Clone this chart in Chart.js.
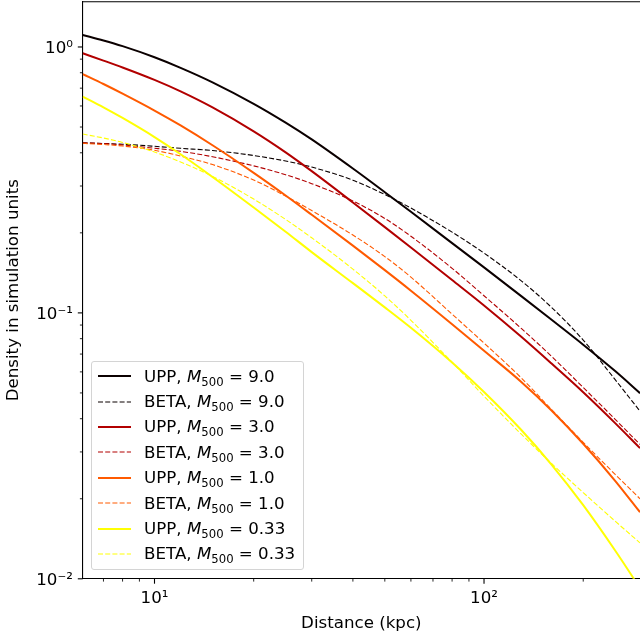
<!DOCTYPE html>
<html>
<head>
<meta charset="utf-8">
<script src="https://cdn.jsdelivr.net/npm/chart.js@4.4.1/dist/chart.umd.min.js"></script>
<style>
  html, body { margin: 0; padding: 0; background: #fff; overflow: hidden; }
  #wrap { position: relative; width: 640px; height: 639px; }
  #legend {
    position: absolute; left: 91px; top: 361px; width: 213px; height: 209px;
    box-sizing: border-box; padding-top: 1.5px;
    border: 1px solid #d4d4d4; border-radius: 3px; background: rgba(255, 255, 255, 0.8);
    font-family: "DejaVu Sans", sans-serif; font-size: 16.67px; color: #000;
  }
  #legend .row { display: flex; align-items: center; height: 25.4px; white-space: nowrap; }
  #legend svg { margin-left: 5.5px; margin-right: 13.3px; flex: none; }
  #legend i { font-style: italic; }
  #legend sub { font-size: 0.7em; vertical-align: -0.3em; line-height: 0; }
</style>
</head>
<body>
<div id="wrap">
  <canvas id="chart" width="640" height="639"></canvas>
  <div id="legend"></div>
</div>
<script>
const distanceKpc = [6.055, 7, 8, 10, 12, 15, 20, 25, 30, 40, 50, 60, 80, 100, 130, 160, 200, 250, 297.4];

// UPP profiles
const uppM9 = [1.110, 1.058, 1.007, 0.915, 0.835, 0.7364, 0.6113, 0.5194, 0.4491, 0.349, 0.2844, 0.240, 0.183, 0.1483, 0.1154, 0.0944, 0.0759, 0.0604, 0.0499];
const uppM3 = [0.947, 0.8889, 0.8374, 0.7519, 0.6807, 0.5925, 0.4817, 0.4016, 0.3412, 0.2602, 0.2102, 0.1762, 0.1329, 0.1066, 0.0811, 0.0646, 0.0503, 0.0385, 0.0310];
const uppM1 = [0.791, 0.7258, 0.6677, 0.5768, 0.507, 0.427, 0.3362, 0.2764, 0.2339, 0.1791, 0.1448, 0.1212, 0.0907, 0.0721, 0.0549, 0.04305, 0.0322, 0.02337, 0.0178];
const uppM033 = [0.651, 0.593, 0.5409, 0.4585, 0.395, 0.3245, 0.2491, 0.202, 0.1693, 0.1294, 0.1049, 0.0879, 0.0651, 0.0504, 0.03618, 0.02694, 0.01892, 0.01278, 0.00923];

// beta-model profiles
const betaM9 = [0.436, 0.4335, 0.4308, 0.4231, 0.4158, 0.4080, 0.3907, 0.3724, 0.3535, 0.3155, 0.2786, 0.2478, 0.2012, 0.1678, 0.1317, 0.1051, 0.0790, 0.0561, 0.0427];
const betaM3 = [0.436, 0.4335, 0.428, 0.4162, 0.4051, 0.3866, 0.3572, 0.3307, 0.3062, 0.2636, 0.2265, 0.1942, 0.1471, 0.1160, 0.0872, 0.0688, 0.0524, 0.0398, 0.0320];
const betaM1 = [0.4342, 0.4297, 0.4242, 0.4087, 0.3889, 0.3612, 0.3158, 0.2749, 0.2425, 0.1962, 0.1628, 0.1363, 0.0989, 0.0770, 0.0568, 0.0434, 0.0326, 0.0247, 0.0200];
const betaM033 = [0.4706, 0.4546, 0.4375, 0.4027, 0.3695, 0.3261, 0.2679, 0.2246, 0.1916, 0.1461, 0.1158, 0.0938, 0.0652, 0.0486, 0.0349, 0.0272, 0.0211, 0.01647, 0.01365];

const masses = ["9.0", "3.0", "1.0", "0.33"];
const uppSeries = [uppM9, uppM3, uppM1, uppM033];
const betaSeries = [betaM9, betaM3, betaM1, betaM033];
const massColors = ["#0b0000", "#b20000", "#ff5a00", "#ffff04"];

// ticks
const xTickValues = [7, 8, 9, 10, 20, 30, 40, 50, 60, 70, 80, 90, 100, 200];
const yTickValues = [0.01, 0.02, 0.03, 0.04, 0.05, 0.06, 0.07, 0.08, 0.09, 0.1, 0.2, 0.3, 0.4, 0.5, 0.6, 0.7, 0.8, 0.9, 1];
const xTickLabels = { 10: "10\u00b9", 100: "10\u00b2" };
const yTickLabels = { 0.01: "10\u207b\u00b2", 0.1: "10\u207b\u00b9", 1: "10\u2070" };

Chart.defaults.font.family = "'DejaVu Sans', sans-serif";
Chart.defaults.font.size = 16.67;
Chart.defaults.color = "#000";

const toPoints = (ys) => distanceKpc.map((x, i) => ({ x, y: ys[i] }));

const datasets = [];
masses.forEach((m, i) => {
  datasets.push({
    profile: "UPP", mass: m,
    label: "UPP, M500 = " + m,
    data: toPoints(uppSeries[i]),
    borderColor: massColors[i],
    borderWidth: 2
  });
  datasets.push({
    profile: "BETA", mass: m,
    label: "BETA, M500 = " + m,
    data: toPoints(betaSeries[i]),
    borderColor: massColors[i],
    borderWidth: 1.1,
    borderDash: [5, 2.2]
  });
});
// matplotlib draws later lines on top
datasets.forEach((ds, i) => {
  ds.order = datasets.length - i;
  ds.pointRadius = 0;
  ds.fill = false;
  ds.cubicInterpolationMode = "monotone";
});

// no extra room for tick labels at the axis ends
const noScalePadding = (s) => {
  s.paddingTop = 0;
  s.paddingBottom = 0;
  s.paddingLeft = 0;
  s.paddingRight = 0;
};

// top spine + matplotlib style major/minor tick marks
const axisDecor = {
  id: "axisDecor",
  afterDraw (chart) {
    const { ctx, chartArea: a, scales: { x, y } } = chart;
    ctx.save();
    ctx.strokeStyle = "#000";
    ctx.lineWidth = 1.1;
    ctx.beginPath();
    ctx.moveTo(a.left - 0.5, a.top);
    ctx.lineTo(a.right, a.top);
    ctx.stroke();

    x.ticks.forEach((t) => {
      const major = t.value in xTickLabels;
      const px = x.getPixelForValue(t.value);
      ctx.lineWidth = major ? 1.1 : 0.85;
      ctx.beginPath();
      ctx.moveTo(px, a.bottom);
      ctx.lineTo(px, a.bottom + (major ? 4.9 : 2.8));
      ctx.stroke();
    });
    y.ticks.forEach((t) => {
      const major = t.value in yTickLabels;
      const py = y.getPixelForValue(t.value);
      ctx.lineWidth = major ? 1.1 : 0.85;
      ctx.beginPath();
      ctx.moveTo(a.left, py);
      ctx.lineTo(a.left - (major ? 4.9 : 2.8), py);
      ctx.stroke();
    });
    ctx.restore();
  }
};

const chart = new Chart(document.getElementById("chart"), {
  type: "line",
  data: { datasets },
  plugins: [axisDecor],
  options: {
    responsive: false,
    animation: false,
    devicePixelRatio: 1,
    layout: { padding: { top: 1.7, right: 0, bottom: 0, left: 0 } },
    plugins: {
      legend: { display: false },
      tooltip: { enabled: false }
    },
    scales: {
      x: {
        type: "logarithmic",
        min: 6.055,
        max: 297.4,
        afterBuildTicks: (s) => { s.ticks = xTickValues.map((v) => ({ value: v })); },
        afterFit: (s) => { s.height = 60.2; noScalePadding(s); },
        ticks: {
          autoSkip: false,
          maxRotation: 0,
          padding: 4.9,
          callback: (v) => xTickLabels[v] || ""
        },
        grid: { drawOnChartArea: false, tickLength: 4.9, tickColor: "rgba(0,0,0,0)" },
        border: { color: "#000", width: 1.1 },
        title: { display: true, text: "Distance (kpc)", padding: { top: 0, bottom: 5 } }
      },
      y: {
        type: "logarithmic",
        min: 0.01,
        max: 1.48,
        afterBuildTicks: (s) => { s.ticks = yTickValues.map((v) => ({ value: v })); },
        afterFit: (s) => { s.width = 82.7; noScalePadding(s); },
        ticks: {
          autoSkip: false,
          padding: 4.9,
          labelOffset: 2,
          callback: (v) => yTickLabels[v] || ""
        },
        grid: { drawOnChartArea: false, tickLength: 4.9, tickColor: "rgba(0,0,0,0)" },
        border: { color: "#000", width: 1.1 },
        title: { display: true, text: "Density in simulation units", padding: { top: 4, bottom: 0 } }
      }
    }
  }
});

// legend with italic M and subscript 500
const legendBox = document.getElementById("legend");
chart.data.datasets.forEach((ds) => {
  const row = document.createElement("div");
  row.className = "row";
  const dash = ds.borderDash ? ds.borderDash.join(" ") : "none";
  row.innerHTML =
    `<svg width="33.3" height="10"><line x1="0" y1="5" x2="33.3" y2="5" stroke="${ds.borderColor}" ` +
    `stroke-width="${ds.borderWidth}" stroke-dasharray="${dash}"/></svg>` +
    `<span>${ds.profile}, <i>M</i><sub>500</sub> = ${ds.mass}</span>`;
  legendBox.appendChild(row);
});
</script>
</body>
</html>
